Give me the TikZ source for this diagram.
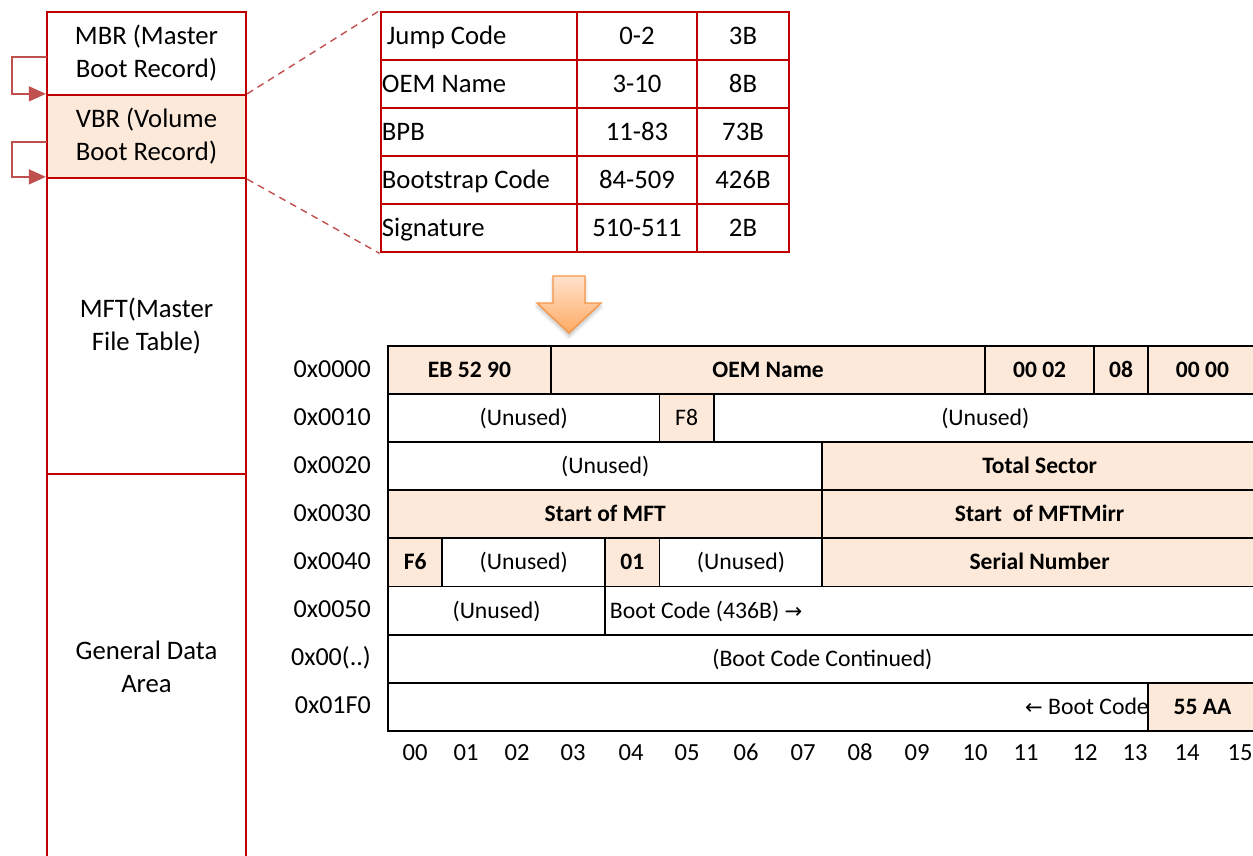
\documentclass[tikz,border=0pt]{standalone}
\usepackage{fontspec}
\setmainfont{Carlito}
\newfontfamily\arrowfont{DejaVu Sans}
\usepackage{xcolor}
\usetikzlibrary{arrows.meta,shadows,shadows.blur,positioning}

\definecolor{boxred}{RGB}{192,0,0}
\definecolor{loopred}{RGB}{192,80,77}
\definecolor{peach}{RGB}{253,233,217}
\definecolor{orangeline}{RGB}{247,150,70}
\definecolor{orangetop}{RGB}{255,226,204}
\definecolor{orangebot}{RGB}{255,170,100}

% one cell of the boot sector grid: name, row, first byte, end byte, style, text
\newcommand{\bytecell}[6]{%
  \pgfmathsetmacro{\cellx}{388+54.3*(#3+#4)/2}%
  \pgfmathsetmacro{\celly}{346+48.1*(#2+0.5)}%
  \pgfmathsetmacro{\cellw}{54.3*(#4-#3)*0.02}%
  \node[#5, minimum width=\cellw cm] (#1) at (\cellx,\celly) {#6};%
}

\begin{document}
\begin{tikzpicture}[x=0.02cm, y=-0.02cm,
    plaintext/.style={font=\fontsize{15.2}{18.7}\selectfont},
    oneline/.style={plaintext, text height=12pt, text depth=2pt},
    celltext/.style={font=\fontsize{13.5}{16}\selectfont, text height=10.5pt, text depth=2pt},
    partbox/.style={draw=boxred, line width=1.3pt, minimum width=3.98cm, align=center, inner sep=0pt, plaintext},
    tabcell/.style={draw=boxred, line width=1.6pt, minimum height=0.96cm, inner sep=0pt, oneline},
    freebox/.style={draw=black, line width=1.1pt, minimum height=0.962cm, inner sep=0pt, celltext},
    fieldbox/.style={freebox, fill=peach, font=\fontsize{13.4}{16}\selectfont\bfseries},
    looparrow/.style={draw=loopred, line width=0.8pt, -{Triangle[length=0.34cm, width=0.3cm]}},
    zoomline/.style={draw=loopred, line width=0.8pt, dash pattern=on 4pt off 3pt}]
    %RAMKA
    \useasboundingbox (0,0) rectangle (1253,855);
    %VOLUME
    \node[partbox, minimum height=1.66cm] (mbr) at (146.5,53.5) {MBR (Master\\Boot Record)};
    \node[partbox, fill=peach, minimum height=1.66cm] (vbr) at (146.5,136.5) {VBR (Volume\\Boot Record)};
    \node[partbox, minimum height=5.92cm] (mftarea) at (146.5,326) {MFT(Master\\File Table)};
    \node[partbox, minimum height=7.72cm] (gda) at (146.5,667) {General Data\\Area};
    %PETLE
    \coordinate (mbrloop) at (47,57);
    \coordinate (vbrloop) at (47,142);
    \draw[looparrow] (mbrloop) -- ++(-35,0) |- (vbr.north west);
    \draw[looparrow] (vbrloop) -- ++(-35,0) |- (mftarea.north west);
    %TABELA VBR
    \foreach \f/\r/\s/\d [count=\i from 0] in {Jump Code/0-2/3B/7, OEM Name/3-10/8B/2, BPB/11-83/73B/2, Bootstrap Code/84-509/426B/2, Signature/510-511/2B/2}{
      \node[tabcell, minimum width=3.92cm] (fld\i) at (479,{36+48*\i}) {};
      \node[oneline, anchor=west, inner sep=0pt] (fldtxt\i) at ([xshift=\d*0.02cm]fld\i.west) {\f};
      \node[tabcell, minimum width=2.4cm] (rng\i) at (637,{36+48*\i}) {\r};
      \node[tabcell, minimum width=1.84cm] (siz\i) at (743,{36+48*\i}) {\s};
    }
    %ZOOM
    \draw[zoomline] (vbr.north east) -- (fld0.north west);
    \draw[zoomline] (vbr.south east) -- (fld4.south west);
    %STRZALKA
    \path[draw=orangeline, line width=0.8pt, top color=orangetop, bottom color=orangebot,
      blur shadow={shadow xshift=0pt, shadow yshift=-2pt, shadow blur steps=6, shadow opacity=25}]
      (553,276) -- (585,276) -- (585,303) -- (601,303) -- (569,333) -- (537,303) -- (553,303) -- cycle;
    %SEKTOR
    \bytecell{eb}{0}{0}{3}{fieldbox}{EB 52 90}
    \bytecell{oem}{0}{3}{11}{fieldbox}{OEM Name}
    \bytecell{bps}{0}{11}{13}{fieldbox}{00 02}
    \bytecell{spc}{0}{13}{14}{fieldbox}{08}
    \bytecell{rsv}{0}{14}{16}{fieldbox}{00 00}
    \bytecell{unA}{1}{0}{5}{freebox}{(Unused)}
    \bytecell{media}{1}{5}{6}{freebox, fill=peach}{F8}
    \bytecell{unB}{1}{6}{16}{freebox}{(Unused)}
    \bytecell{unC}{2}{0}{8}{freebox}{(Unused)}
    \bytecell{total}{2}{8}{16}{fieldbox}{Total Sector}
    \bytecell{mftstart}{3}{0}{8}{fieldbox}{Start of MFT}
    \bytecell{mirr}{3}{8}{16}{fieldbox}{Start\ \ of MFTMirr}
    \bytecell{fsix}{4}{0}{1}{fieldbox}{F6}
    \bytecell{unD}{4}{1}{4}{freebox}{(Unused)}
    \bytecell{one}{4}{4}{5}{fieldbox}{01}
    \bytecell{unE}{4}{5}{8}{freebox}{(Unused)}
    \bytecell{serial}{4}{8}{16}{fieldbox}{Serial Number}
    \bytecell{unF}{5}{0}{4}{freebox}{(Unused)}
    \bytecell{boot}{5}{4}{16}{freebox}{}
    \bytecell{cont}{6}{0}{16}{freebox}{(Boot Code Continued)}
    \bytecell{bootend}{7}{0}{14}{freebox}{}
    \bytecell{sig}{7}{14}{16}{fieldbox}{55 AA}
    \node[celltext, anchor=west, inner sep=0pt] (boottxt) at ([xshift=3pt]boot.west) {Boot Code (436B) {\arrowfont\fontsize{12}{13}\selectfont →}};
    \node[celltext, anchor=east, inner sep=0pt] (bootendtxt) at (bootend.east) {{\arrowfont\fontsize{12}{13}\selectfont ←} Boot Code};
    %OFFSETY
    \foreach \lbl [count=\i from 0] in {0x0000,0x0010,0x0020,0x0030,0x0040,0x0050,0x00(..),0x01F0}{
      \node[font=\fontsize{14.8}{17}\selectfont, text height=10.5pt, text depth=2.5pt, anchor=east] (row\i) at (377,{346+48.1*(\i+0.5)}) {\lbl};
    }
    \foreach \x/\t in {415/00,466/01,517/02,573/03,631/04,687/05,746/06,803/07,860/08,917/09,975/10,1026/11,1085/12,1135/13,1187/14,1240/15}{
      \node[font=\fontsize{14}{17}\selectfont, text height=12pt, text depth=2pt] (col\t) at (\x,752) {\t};
    }
\end{tikzpicture}
\end{document}
